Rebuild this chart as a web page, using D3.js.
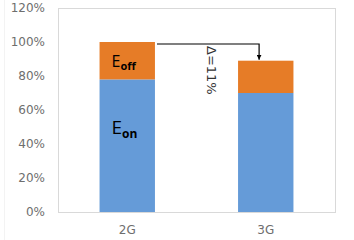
<!DOCTYPE html>
<html>
<head>
<script src="https://d3js.org/d3.v7.min.js"></script>
<style>
  body { margin: 0; background: #fff; }
  svg { display: block; font-family: "DejaVu Sans", sans-serif; }
</style>
</head>
<body>
<div id="chart"></div>
<script>
const categories = ["2G", "3G"];
const eOn = [0.78, 0.70];
const eOff = [0.22, 0.19];
const yTicks = [0, 0.2, 0.4, 0.6, 0.8, 1.0, 1.2];
const deltaLabel = "Δ=11%";

const W = 354, H = 240;
const margin = { top: 8, right: 19, bottom: 28, left: 58 };
const w = W - margin.left - margin.right;
const h = H - margin.top - margin.bottom;

const svg = d3.select("#chart").append("svg")
  .attr("width", W).attr("height", H);

// faint chart-area edge
svg.append("line").attr("x1", 4.5).attr("x2", 4.5).attr("y1", 0).attr("y2", H)
  .attr("stroke", "#f3f3f3");

const g = svg.append("g").attr("transform", `translate(${margin.left},${margin.top})`);

const x = d3.scaleBand().domain(categories).range([0, w]).padding(0);
const y = d3.scaleLinear().domain([0, 1.2]).range([h, 0]);
const barW = x.bandwidth() * 0.4;
const bx = c => x(c) + (x.bandwidth() - barW) / 2;

g.append("rect").attr("x", 0.5).attr("y", 0.5).attr("width", w).attr("height", h)
  .attr("fill", "none").attr("stroke", "#d9d9d9");

// y axis labels
const yAxis = g.append("g").call(d3.axisLeft(y).tickValues(yTicks)
  .tickFormat(d => Math.round(d * 100) + "%").tickSize(0).tickPadding(13));
yAxis.select(".domain").remove();
yAxis.attr("font-family", "DejaVu Sans");
yAxis.selectAll("text").attr("fill", "#6e6e6e").style("font-size", "12px");

const xAxis = g.append("g").attr("transform", `translate(0,${h})`)
  .call(d3.axisBottom(x).tickSize(0).tickPadding(13));
xAxis.select(".domain").remove();
xAxis.attr("font-family", "DejaVu Sans");
xAxis.selectAll("text").attr("fill", "#6e6e6e").style("font-size", "12px");

const rows = categories.map((c, i) => ({ c, on: eOn[i], off: eOff[i] }));

g.selectAll(".on").data(rows).join("rect")
  .attr("x", d => bx(d.c)).attr("width", barW)
  .attr("y", d => y(d.on)).attr("height", d => y(0) - y(d.on))
  .attr("fill", "#659bd8");
g.selectAll(".off").data(rows).join("rect")
  .attr("x", d => bx(d.c)).attr("width", barW)
  .attr("y", d => y(d.on + d.off)).attr("height", d => y(d.on) - y(d.on + d.off))
  .attr("fill", "#e67c27");

// E labels
const lx = bx(categories[0]) + 12;
const offT = g.append("text").attr("x", lx).attr("y", y(eOn[0] + eOff[0] / 2) + 6)
  .attr("fill", "#000").style("font-family", "'Open Sans', sans-serif").style("font-size", "16px");
offT.append("tspan").text("E");
offT.append("tspan").attr("dy", 3).style("font-size", "11px").style("font-weight", "bold").text("off");

const onT = g.append("text").attr("x", lx).attr("y", y(0.5) + 7)
  .attr("fill", "#000").style("font-family", "'Open Sans', sans-serif").style("font-size", "19px");
onT.append("tspan").text("E");
onT.append("tspan").attr("dy", 4).style("font-size", "12px").style("font-weight", "bold").text("on");

// delta arrow
const x0 = bx(categories[0]) + barW + 2;
const x1 = bx(categories[1]) + barW * 0.38;
const yTop = y(eOn[0] + eOff[0]) + 2;
const yEnd = y(eOn[1] + eOff[1]);
svg.append("defs").append("marker").attr("id", "ah")
  .attr("viewBox", "0 0 10 10").attr("refX", 10).attr("refY", 5)
  .attr("markerWidth", 4).attr("markerHeight", 4).attr("orient", "auto")
  .append("path").attr("d", "M0,0L10,5L0,10Z").attr("fill", "#000");
g.append("path")
  .attr("d", `M${x0},${yTop}H${x1}V${yEnd - 1}`)
  .attr("fill", "none").attr("stroke", "#000").attr("stroke-width", 1.2)
  .attr("marker-end", "url(#ah)");

const dx = (x0 + x1) / 2 + 4, dy = (yTop + yEnd) / 2 + 18;
g.append("text").attr("transform", `translate(${dx},${dy}) rotate(90)`)
  .attr("text-anchor", "middle").attr("dy", "0.35em")
  .attr("fill", "#333").style("font-size", "13px").text(deltaLabel);
</script>
</body>
</html>
